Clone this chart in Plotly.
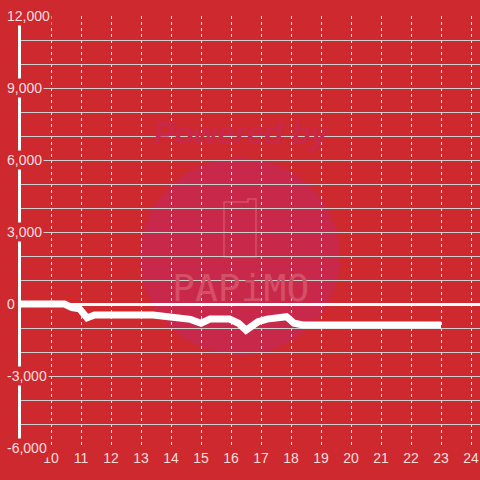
import plotly.graph_objects as go

# line values
x_vals = [9.0, 10.45, 10.7, 10.95, 11.2, 11.45, 13.4, 13.9, 14.3, 14.65, 15.0, 15.3,
          15.95, 16.25, 16.5, 16.9, 17.2, 17.75, 17.85, 18.1, 18.4, 23.0]
y_vals = [0, 0, -150, -200, -580, -460, -460, -540, -540, -640, -800, -630,
          -630, -800, -1090, -740, -630, -600, -530, -800, -875, -875]

x_ticks = list(range(10, 25))
y_grid = list(range(-6000, 12001, 1000))
y_labels = [12000, 9000, 6000, 3000, 0, -3000, -6000]

BG = "#cd292e"
TXT = "rgba(255,240,240,0.92)"

fig = go.Figure()
fig.add_trace(go.Scatter(
    x=x_vals, y=y_vals, mode="lines",
    line=dict(color="white", width=7),
    hoverinfo="skip",
))

# watermark
fig.add_shape(type="circle", xref="paper", yref="paper", layer="below",
              x0=(140 - 21) / 459, x1=(340 - 21) / 459,
              y0=(448 - 355) / 432, y1=(448 - 158) / 432,
              fillcolor="#c8284a", line=dict(width=0))
fig.add_shape(type="path", xref="paper", yref="paper", layer="below",
              path="M {a},{b} L {a},{c} L {d},{c} L {d},{e} L {f},{e} L {f},{b} Z".format(
                  a=(224 - 21) / 459, b=(448 - 257) / 432, c=(448 - 202) / 432,
                  d=(248 - 21) / 459, e=(448 - 199) / 432, f=(256 - 21) / 459),
              line=dict(color="#d45066", width=1.5))
fig.add_annotation(text="<b><i>Powered by</i></b>", xref="paper", yref="paper",
                   x=(242 - 21) / 459, y=(448 - 114) / 432, showarrow=False,
                   font=dict(size=31, color="#c9284a", family="Liberation Sans"))
fig.add_annotation(text="PAPiMO", xref="paper", yref="paper",
                   x=(240 - 21) / 459, y=(448 - 288) / 432, showarrow=False,
                   font=dict(size=38, color="#d45066", family="DejaVu Sans Mono"))

# y labels sitting over the axis line
for v in y_labels:
    fig.add_annotation(text=f"{v:,}", xref="paper", yref="y",
                       x=-16 / 459, y=v, xanchor="left", yanchor="middle",
                       showarrow=False, bgcolor=BG, borderpad=1,
                       font=dict(size=14, color=TXT, family="Liberation Sans"))

fig.update_xaxes(
    range=[9, 24.3], tickvals=x_ticks, showgrid=True,
    gridcolor="rgba(255,255,255,0.85)", griddash="3px,3px", gridwidth=1,
    zeroline=False, showline=False, ticks="", automargin=False,
    tickfont=dict(size=14, color=TXT, family="Liberation Sans"),
)
fig.update_yaxes(
    range=[-6000, 12000], tickvals=y_grid, showticklabels=False,
    showgrid=True, gridcolor="#cfcfcf", gridwidth=1,
    zeroline=True, zerolinecolor="white", zerolinewidth=3,
    showline=True, linecolor="white", linewidth=3, ticks="", automargin=False,
)
fig.update_layout(
    width=480, height=480,
    margin=dict(l=21, r=0, t=16, b=32, autoexpand=False),
    paper_bgcolor=BG, plot_bgcolor=BG,
    showlegend=False,
)

fig.write_html("out.html", config={"displayModeBar": False},
               post_script="document.body.style.margin='0';")
